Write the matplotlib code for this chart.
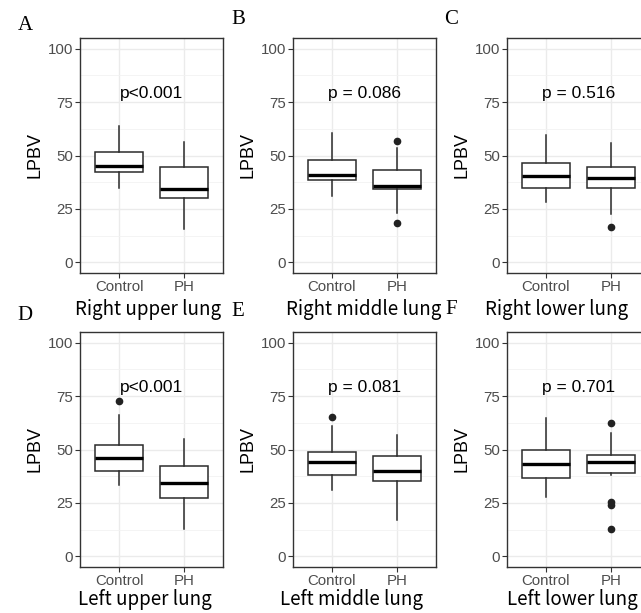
import matplotlib
matplotlib.use("Agg")
import matplotlib.pyplot as plt

# data (LPBV, %)
letters = ["A", "B", "C", "D", "E", "F"]
regions = ["Right upper lung", "Right middle lung", "Right lower lung",
           "Left upper lung", "Left middle lung", "Left lower lung"]
p_labels = ["p<0.001", "p = 0.086", "p = 0.516", "p<0.001", "p = 0.081", "p = 0.701"]
groups = ["Control", "PH"]

control_whislo = [35.0, 31.0, 28.4, 33.6, 31.0, 27.8]
control_q1 = [42.1, 38.7, 35.0, 39.8, 37.9, 36.7]
control_med = [44.9, 41.0, 40.4, 46.0, 44.0, 43.2]
control_q3 = [51.5, 47.7, 46.6, 52.1, 48.6, 50.0]
control_whishi = [63.9, 60.3, 59.7, 66.0, 60.8, 64.8]
control_fliers = [[], [], [], [72.5], [65.1], []]

ph_whislo = [15.7, 23.3, 22.5, 12.9, 17.0, 37.9]
ph_q1 = [30.1, 34.1, 35.0, 27.1, 35.1, 38.9]
ph_med = [34.1, 35.8, 39.7, 34.1, 39.8, 44.0]
ph_q3 = [44.6, 43.1, 44.6, 42.3, 47.1, 47.6]
ph_whishi = [56.2, 53.4, 55.9, 55.0, 56.8, 57.9]
ph_fliers = [[], [56.6, 18.4], [16.5], [], [], [62.4, 25.5, 23.8, 12.7]]

W, H = 641, 613
fig = plt.figure(figsize=(W / 100, H / 100), dpi=100)

lefts = [80, 293, 507]
tops = [38, 332]
aw, ah = 143, 235

for i in range(6):
    row, col = i // 3, i % 3
    ax = fig.add_axes([lefts[col] / W, (H - tops[row] - ah) / H, aw / W, ah / H])
    stats = [
        dict(med=control_med[i], q1=control_q1[i], q3=control_q3[i],
             whislo=control_whislo[i], whishi=control_whishi[i], fliers=control_fliers[i]),
        dict(med=ph_med[i], q1=ph_q1[i], q3=ph_q3[i],
             whislo=ph_whislo[i], whishi=ph_whishi[i], fliers=ph_fliers[i]),
    ]
    ax.bxp(stats, positions=[1, 2], widths=0.75, patch_artist=True, showcaps=False,
           boxprops=dict(facecolor="white", edgecolor="#2b2b2b", linewidth=1.1),
           whiskerprops=dict(color="#2b2b2b", linewidth=1.1),
           medianprops=dict(color="black", linewidth=2.4),
           flierprops=dict(marker="o", markerfacecolor="#222222", markeredgecolor="#222222",
                           markersize=4.5))
    ax.set_xlim(0.4, 2.6)
    ax.set_ylim(-5, 105)
    ax.set_xticks([1, 2])
    ax.set_xticklabels(groups)
    ax.set_yticks([0, 25, 50, 75, 100])
    ax.set_yticks([12.5, 37.5, 62.5, 87.5], minor=True)
    ax.grid(True, which="major", color="#EBEBEB", linewidth=1.0)
    ax.grid(True, which="minor", axis="y", color="#F2F2F2", linewidth=0.6)
    ax.set_axisbelow(True)
    for s in ax.spines.values():
        s.set_color("#333333")
        s.set_linewidth(1.0)
    ax.tick_params(which="major", length=3.5, width=0.8, color="#333333",
                   labelcolor="#4D4D4D", labelsize=10.8, pad=1.5)
    ax.tick_params(which="minor", length=0)
    for lab in ax.get_xticklabels() + ax.get_yticklabels():
        lab.set_family("Liberation Sans")
    ax.set_ylabel("LPBV", fontsize=13, family="Liberation Sans", labelpad=3)
    ax.text(1.5, 79, p_labels[i], ha="center", va="center", fontsize=12.5,
            family="Liberation Sans")

# panel letters
letter_xy = [(25, 25), (238, 20), (451, 20), (25, 316), (238, 311), (451, 309)]
for lt, (x, y) in zip(letters, letter_xy):
    fig.text(x / W, 1 - y / H, lt, ha="center", va="center", fontsize=15,
             family="Liberation Serif")

# region names under each panel
name_xy = [(148, 310), (364, 310), (557, 310), (145, 600), (351, 600), (572, 600)]
for nm, (x, y) in zip(regions, name_xy):
    fig.text(x / W, 1 - y / H, nm, ha="center", va="center", fontsize=13.5,
             family="Noto Sans CJK JP")

fig.savefig("out.png", dpi=100)
